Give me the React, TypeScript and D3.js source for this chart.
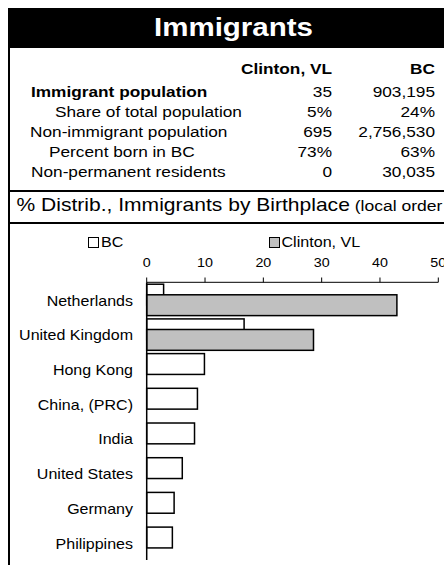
import React from "react";
import * as d3 from "d3";

const categories = ["Netherlands", "United Kingdom", "Hong Kong", "China, (PRC)", "India", "United States", "Germany", "Philippines"];
const bcValues = [2.9, 16.7, 9.9, 8.7, 8.2, 6.1, 4.7, 4.4];
const clintonValues = [42.9, 28.6, 0, 0, 0, 0, 0, 0];
const tickValues = [0, 10, 20, 30, 40, 50];

const tableLabels = ["Immigrant population", "Share of total population", "Non-immigrant population", "Percent born in BC", "Non-permanent residents"];
const clintonStats = ["35", "5%", "695", "73%", "0"];
const bcStats = ["903,195", "24%", "2,756,530", "63%", "30,035"];

const FONT = "'Liberation Sans', Arial, Helvetica, sans-serif";

function T({ x, y, sx = 1.15, anchor = "start", size = 15, weight = "normal", fill = "#000", children }: any) {
  return (
    <text
      transform={`translate(${x},${y}) scale(${sx},1)`}
      textAnchor={anchor}
      fontSize={size}
      fontWeight={weight}
      fill={fill}
      fontFamily={FONT}
    >
      {children}
    </text>
  );
}

export default function App() {
  const W = 444;
  const H = 565;
  const x = d3.scaleLinear().domain([0, 50]).range([146.7, 438.3]);
  const y = d3.scaleBand<string>().domain(categories).range([282.3, 559.9]).paddingInner(0).paddingOuter(0);
  const step = y.step();
  const barH = step * 0.6;

  const labelX = [31, 55, 30, 49, 31];
  const rowY = [96.7, 117.4, 137.4, 157.4, 177.4];

  return (
    <svg width={W} height={H} style={{ position: "absolute", left: 0, top: 0, display: "block", background: "#fff" }}>
      {/* Header band */}
      <rect x={8} y={8} width={W - 8} height={40} fill="#000" />
      <T x={233.5} y={36} size={25} sx={1.18} anchor="middle" weight="bold" fill="#fff">Immigrants</T>

      {/* Frame lines */}
      <line x1={9} x2={9} y1={48} y2={H} stroke="#000" strokeWidth={2} />
      <line x1={8} x2={W} y1={191} y2={191} stroke="#000" strokeWidth={2} />
      <line x1={8} x2={W} y1={223} y2={223} stroke="#000" strokeWidth={2} />

      {/* Table */}
      <T x={332} y={74} anchor="end" weight="bold">Clinton, VL</T>
      <T x={435} y={74} anchor="end" weight="bold">BC</T>
      {tableLabels.map((lab, i) => (
        <g key={lab}>
          <T x={labelX[i]} y={rowY[i]} weight={i === 0 ? "bold" : "normal"}>{lab}</T>
          <T x={332} y={rowY[i]} anchor="end">{clintonStats[i]}</T>
          <T x={435} y={rowY[i]} anchor="end">{bcStats[i]}</T>
        </g>
      ))}

      {/* Section title */}
      <text transform="translate(16.5,210.7) scale(1.17,1)" fontFamily={FONT} fill="#000">
        <tspan fontSize={18}>% Distrib., Immigrants by Birthplace</tspan>
        <tspan fontSize={15}> (local order</tspan>
      </text>

      {/* Legend */}
      <rect x={88.5} y={237.5} width={10} height={10} fill="#fff" stroke="#000" strokeWidth={1} />
      <T x={101} y={247.3} size={14}>BC</T>
      <rect x={269.5} y={237.5} width={10} height={10} fill="#c0c0c0" stroke="#000" strokeWidth={1} />
      <T x={281.5} y={247.3} size={14}>Clinton, VL</T>

      {/* Top axis */}
      <line x1={x(0)} x2={x(50)} y1={282.3} y2={282.3} stroke="#000" strokeWidth={1} />
      {tickValues.map((t) => (
        <g key={t}>
          <line x1={x(t)} x2={x(t)} y1={277.5} y2={282.3} stroke="#000" strokeWidth={1} />
          <T x={x(t)} y={266.7} size={13} sx={1.1} anchor="middle">{t}</T>
        </g>
      ))}

      {/* Bars */}
      {categories.map((c, i) => {
        const b = y(c) as number;
        return (
          <g key={c}>
            <rect
              x={x(0)}
              y={b + step * 0.055}
              width={x(bcValues[i]) - x(0)}
              height={barH}
              fill="#fff"
              stroke="#000"
              strokeWidth={1.5}
            />
            {clintonValues[i] > 0 && (
              <rect
                x={x(0)}
                y={b + step * 0.36}
                width={x(clintonValues[i]) - x(0)}
                height={barH}
                fill="#c0c0c0"
                stroke="#000"
                strokeWidth={1.5}
              />
            )}
            <T x={133} y={b + step / 2 + 6} size={14} sx={1.145} anchor="end">{c}</T>
          </g>
        );
      })}

      {/* Category axis */}
      <line x1={x(0)} x2={x(0)} y1={282.3} y2={559.9} stroke="#000" strokeWidth={1.5} />
    </svg>
  );
}
